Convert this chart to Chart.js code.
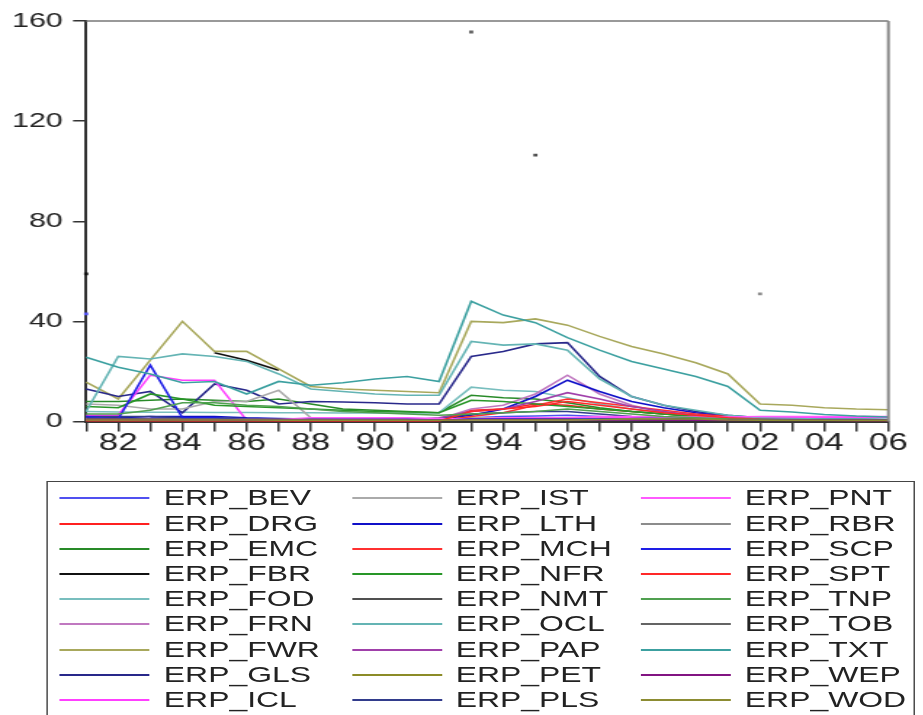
<!DOCTYPE html>
<html>
<head>
<meta charset="utf-8">
<script src="https://cdn.jsdelivr.net/npm/chart.js@4.4.1/dist/chart.umd.min.js"></script>
<style>
  html, body { margin: 0; padding: 0; background: #fff; }
  body { width: 923px; height: 715px; overflow: hidden; position: relative; }
  /* the original picture is stretched sideways, so the whole page is drawn narrow and widened */
  #wrap { position: absolute; left: 0; top: 0; width: 636.5px; height: 715px; transform: scaleX(1.45); transform-origin: 0 0; }
  #chartBox { position: absolute; left: 0; top: 0; width: 636.5px; height: 470px; }
  #legend { position: absolute; left: 32.4px; top: 481px; width: 598.6px; height: 250px;
            border: 1.6px solid #444; box-sizing: border-box; }
  .item { position: absolute; height: 22px;
          font-family: "Liberation Sans", Arial, sans-serif; font-size: 22px; line-height: 22px; color: #222; }
  .item .swatch { position: absolute; left: 0; top: 10px; width: 62px; height: 2px; }
  .item .name { position: absolute; left: 71.5px; top: 0; white-space: nowrap; }
</style>
</head>
<body>
<div id="wrap">
  <div id="chartBox"><canvas id="erpchart"></canvas></div>
  <div id="legend"></div>
</div>
<script>
var years = [1981, 1982, 1983, 1984, 1985, 1986, 1987, 1988, 1989, 1990, 1991, 1992, 1993,
             1994, 1995, 1996, 1997, 1998, 1999, 2000, 2001, 2002, 2003, 2004, 2005, 2006];
var yTickValues = [0, 40, 80, 120, 160];

var erpBEV = [43, null, 1.5, 1.5, 1, 1, 0.8, 0.8, 0.7, 0.7, 0.6, 0.6, 1.5, 2, 2.2, 2.5, 2, 1.5, 1.2, 1, 0.8, 0.7, 0.6, 0.6, 0.5, 0.5];
var erpDRG = [0.5, 0.5, 0.5, 0.4, 0.4, 0.4, 0.4, 0.3, 0.3, 0.3, 0.3, 0.5, 4.5, 5, 7, 6.5, 5, 4, 3, 2.2, 1.5, 1, 0.8, 0.6, 0.5, 0.5];
var erpEMC = [8, 8, 8.5, 9, 8.5, 8, 9, 7, 5, 4.5, 4, 3.5, 10.5, 9.5, 9, 7.5, 5.5, 4, 3, 2, 1.5, 1, 0.8, 0.6, 0.5, 0.5];
var erpFBR = [59, null, null, null, 27.5, 24.5, 20.5, null, null, null, null, null, null, null, null, null, null, null, null, null, null, null, null, null, null, null];
var erpFOD = [4, 3.8, 3.7, 3.7, 3.6, 3.6, 3.5, 3.5, 3.4, 3.4, 3.3, 3.5, 13.7, 12.5, 12, 9.5, 7, 5, 3.5, 2.5, 1.8, 1.2, 1, 0.8, 0.7, 0.6];
var erpFRN = [1.5, 1.5, 1.2, 1, 1, 1, 0.8, 0.8, 0.8, 0.8, 0.8, 1, 5, 6.5, 11, 18.5, 11, 6.5, 3.5, 2, 1.2, 0.8, 0.6, 0.5, 0.5, 0.5];
var erpFWR = [15.7, 9, 24.5, 40, 28, 28, 21, 14, 13, 12.5, 12, 11.5, 40, 39.5, 41, 38.5, 34, 30, 27, 23.5, 19, 7, 6.5, 5.5, 5, 4.7];
var erpGLS = [13, 10, 12, 3.5, 15, 12.5, 7, 8, 7.8, 7.5, 7, 7, 26, 28, 31, 31.5, 18, 10, 6.5, 4, 2.5, 1.5, 1.2, 1, 1, 0.8];
var erpICL = [2.5, 2.5, 18.5, 16.5, 16.5, 0.5, 0.8, 0.8, 0.8, 0.8, 0.8, 0.8, 1, 1.2, 1.5, 1.5, 1.5, 1.5, 1.5, 1.5, 1.5, 1.5, 1.6, 1.7, 1.7, 1.7];
var erpIST = [7, 6.5, 5, 5, 8, 8, 12.5, 1.5, 1.2, 1, 1, 1, 1.5, 1.5, 1.5, 1.5, 1.2, 1, 1, 0.8, 0.7, 0.6, 0.5, 0.5, 0.5, 0.5];
var erpLTH = [1.5, 1.5, 2, 2, 2, 1.5, 1.2, 1, 1, 1, 1, 1, 2.5, 5, 10, 16.5, 12, 8, 5.5, 3.5, 2, 1, 0.8, 0.6, 0.5, 0.5];
var erpMCH = [0.3, 0.3, 0.3, 0.3, 0.3, 0.3, 0.3, 0.3, 0.3, 0.3, 0.3, 0.3, 2, 3.5, 6.5, 9, 7.5, 6, 4.5, 3, 2, 1, 0.7, 0.5, 0.4, 0.4];
var erpNFR = [6, 5.5, 11, 9, 6.5, 6, 5.5, 5, 4.5, 4, 3.8, 3.5, 8.5, 8, 7, 6, 5, 4, 3, 2, 1.5, 1, 0.8, 0.7, 0.6, 0.6];
var erpNMT = [1, 1, 1, 1, 0.8, 0.8, 0.8, 0.5, 0.5, 0.5, 0.5, 0.5, 1, null, 106.4, null, 1, 0.8, 0.6, 0.5, 0.5, 0.5, 0.5, 0.5, 0.5, 0.5];
var erpOCL = [4, 26, 25, 27, 26, 24, 19, 13, 12, 11, 10.5, 10.5, 32, 30.5, 31, 28.5, 17, 10, 6.5, 4.5, 2.5, 1.5, 1.2, 1, 1, 0.8];
var erpPAP = [1, 1, 1, 0.8, 0.8, 0.8, 0.6, 0.6, 0.6, 0.6, 0.6, 1.5, 4, 5, 8, 11.5, 9, 6, 4, 2.5, 1.5, 1, 0.8, 0.6, 0.5, 0.5];
var erpPET = [1, 0.8, 0.8, 0.8, 0.8, 0.8, 0.6, 0.6, 0.6, 0.6, 0.6, 0.6, 0.8, 0.8, 0.8, 0.8, 0.8, 0.8, 0.8, 0.8, 0.8, 0.8, 0.6, 0.6, 0.6, 0.6];
var erpPLS = [2, 2, 2, 1.5, 1.5, 1.2, 1, 1, 1, 1, 1, 1, 3, 3.5, 4, 4, 3, 2, 1.5, 1, 0.8, 0.6, 0.5, 0.5, 0.4, 0.4];
var erpPNT = [1, 1, 0.8, 0.8, 0.8, 0.8, 0.8, 1.5, 1.5, 1.5, 1.5, 1.2, 1, 1.5, 1.5, 1.5, 2, 2, 1.8, 1.8, 1.8, 2, 2, 2, 2, 2];
var erpRBR = [0.5, 0.5, 0.5, 0.5, 0.5, 0.5, 0.5, 0.5, 0.5, 0.5, 0.5, 0.5, 0.8, 0.8, 0.8, 0.8, 0.6, 0.6, 0.6, 0.6, null, 51, null, 0.5, 0.5, 0.5];
var erpSCP = [2, 1, 22.5, 1.5, 1.5, 0.5, 0.5, 0.5, 0.5, 0.5, 0.5, 0.5, 1, 1, 1, 1, 1, 0.8, 0.6, 0.5, 0.5, 0.5, 0.5, 0.5, 0.5, 0.5];
var erpSPT = [0.2, 0.2, 0.2, 0.2, 0.2, 0.2, 0.2, 0.2, 0.2, 0.2, 0.2, 0.2, 4, 5, 6, 8, 6.5, 5, 3.5, 2.5, 1.5, 0.8, 0.6, 0.5, 0.4, 0.4];
var erpTNP = [3, 3, 4.5, 7.5, 7.5, 6.5, 6, 5, 4, 3.5, 3, 2.5, 3, 3.5, 4, 5, 4, 3, 2, 1.5, 1, 0.8, 0.6, 0.5, 0.5, 0.5];
var erpTOB = [1.2, 1.2, 1, 1, 1, 0.8, 0.8, 0.8, 0.7, 0.7, 0.7, null, 155.6, null, 0.8, 0.8, 0.7, 0.7, 0.6, 0.6, 0.5, 0.5, 0.5, 0.5, 0.5, 0.5];
var erpTXT = [25.7, 21.7, 19, 15.5, 16, 11, 16, 14.5, 15.5, 17, 18, 16, 48, 42.5, 39.5, 33.5, 28.5, 24, 21, 18, 14, 4.5, 3.8, 2.8, 2.2, 1.8];
var erpWEP = [0.8, 0.8, 0.6, 0.6, 0.6, 0.5, 0.5, 0.5, 0.5, 0.5, 0.5, 0.5, 0.8, 0.8, 0.8, 0.8, 0.6, 0.6, 0.5, 0.5, 0.4, 0.4, 0.4, 0.4, 0.4, 0.4];
var erpWOD = [0.6, 0.6, 0.6, 0.6, 0.6, 0.6, 0.5, 0.5, 0.5, 0.5, 0.5, 0.5, 0.6, 0.6, 0.6, 0.6, 0.8, 1, 1, 1, 0.6, 0.5, 0.4, 0.4, 0.4, 0.4];

var seriesNames = ['ERP_BEV', 'ERP_DRG', 'ERP_EMC', 'ERP_FBR', 'ERP_FOD', 'ERP_FRN', 'ERP_FWR', 'ERP_GLS', 'ERP_ICL',
                   'ERP_IST', 'ERP_LTH', 'ERP_MCH', 'ERP_NFR', 'ERP_NMT', 'ERP_OCL', 'ERP_PAP', 'ERP_PET', 'ERP_PLS',
                   'ERP_PNT', 'ERP_RBR', 'ERP_SCP', 'ERP_SPT', 'ERP_TNP', 'ERP_TOB', 'ERP_TXT', 'ERP_WEP', 'ERP_WOD'];
var seriesData = [erpBEV, erpDRG, erpEMC, erpFBR, erpFOD, erpFRN, erpFWR, erpGLS, erpICL,
                  erpIST, erpLTH, erpMCH, erpNFR, erpNMT, erpOCL, erpPAP, erpPET, erpPLS,
                  erpPNT, erpRBR, erpSCP, erpSPT, erpTNP, erpTOB, erpTXT, erpWEP, erpWOD];
var seriesColors = ['#5050f0', '#ff2020', '#288a28', '#111111', '#78bebe', '#c078c0', '#a8a85c', '#28288a', '#ff40ff',
                    '#aaaaaa', '#1010c8', '#ff3030', '#289628', '#505050', '#64b4b4', '#a040aa', '#8c8c28', '#323c8c',
                    '#ff5aff', '#8c8c8c', '#1e1ee6', '#ff2828', '#50a050', '#646464', '#3ca0a0', '#821482', '#8c8c32'];

// a value with no neighbour gets a small square, like the isolated points in the picture
function lonePoint(ctx) {
    var d = ctx.dataset.data, i = ctx.dataIndex;
    if (d[i] == null) return 0;
    var prev = i > 0 ? d[i - 1] : null;
    var next = i < d.length - 1 ? d[i + 1] : null;
    return (prev == null && next == null) ? 2 : 0;
}

var datasets = seriesNames.map(function (name, i) {
    return {
        label: name,
        data: seriesData[i],
        borderColor: seriesColors[i],
        backgroundColor: seriesColors[i],
        borderWidth: 1.6,
        tension: 0,
        fill: false,
        pointStyle: 'rect',
        pointRadius: lonePoint,
        pointBorderWidth: 0,
        order: seriesNames.length - i
    };
});

// top and right sides of the frame
var frame = {
    id: 'frame',
    afterDraw: function (chart) {
        var a = chart.chartArea, c = chart.ctx;
        c.save();
        c.strokeStyle = '#777';
        c.lineWidth = 1.6;
        c.beginPath();
        c.moveTo(a.left, a.top);
        c.lineTo(a.right, a.top);
        c.stroke();
        c.strokeStyle = '#888';
        c.lineWidth = 2;
        c.beginPath();
        c.moveTo(a.right, a.top);
        c.lineTo(a.right, a.bottom);
        c.stroke();
        c.restore();
    }
};

var ctxerp = document.getElementById('erpchart');
var erpchart = new Chart(ctxerp, {
    type: 'line',
    data: {
        labels: years,
        datasets: datasets
    },
    options: {
        responsive: true,
        maintainAspectRatio: false,
        animation: false,
        layout: { padding: { top: 21, right: 24.8, left: 0, bottom: 0 } },
        plugins: { legend: { display: false }, tooltip: { enabled: false } },
        scales: {
            x: {
                offset: false,
                grid: { drawOnChartArea: false, drawTicks: true, tickLength: 10, color: '#333', lineWidth: 1.5 },
                border: { display: true, color: '#333', width: 2 },
                ticks: {
                    autoSkip: false, maxRotation: 0, minRotation: 0, padding: 0, color: '#222',
                    font: { family: '"Liberation Sans", Arial, sans-serif', size: 24, lineHeight: 1 },
                    callback: function (v, i) { return i % 2 === 1 ? String(years[i]).slice(2) : ''; }
                },
                afterFit: function (s) { s.height = 48.5; }
            },
            y: {
                min: 0,
                max: 160,
                afterBuildTicks: function (s) { s.ticks = yTickValues.map(function (v) { return { value: v }; }); },
                grid: { drawOnChartArea: false, drawTicks: true, tickLength: 9, color: '#333', lineWidth: 1.5 },
                border: { display: true, color: '#333', width: 2 },
                ticks: {
                    padding: 7, color: '#222',
                    font: { family: '"Liberation Sans", Arial, sans-serif', size: 21 }
                },
                afterFit: function (s) { s.width = 59.3; }
            }
        }
    },
    plugins: [frame]
});

// legend box: three columns of nine, filled down each column
var legendBox = document.getElementById('legend');
var colLineX = [42.1, 243.4, 442.8];
var boxLeft = 32.4, boxTop = 481;
seriesNames.forEach(function (name, i) {
    var col = Math.floor(i / 9), row = i % 9;
    var item = document.createElement('div');
    item.className = 'item';
    item.style.left = (colLineX[col] - boxLeft - 1.6) + 'px';
    item.style.top = Math.round(499 + row * 25.2 - 11 - boxTop - 1.6) + 'px';
    var sw = document.createElement('span');
    sw.className = 'swatch';
    sw.style.background = seriesColors[i];
    var tx = document.createElement('span');
    tx.className = 'name';
    tx.textContent = name;
    item.appendChild(sw);
    item.appendChild(tx);
    legendBox.appendChild(item);
});
</script>
</body>
</html>
